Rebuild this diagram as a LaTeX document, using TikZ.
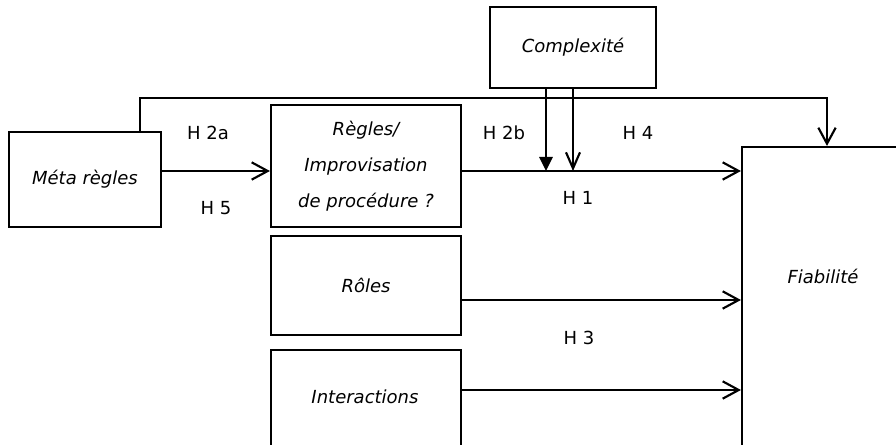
\documentclass[tikz,border=0pt]{standalone}
\usepackage{fontspec}
\setmainfont{DejaVu Sans}
\usetikzlibrary{arrows.meta}

\tikzset{
  every node/.style={font=\fontsize{13.5}{16}\selectfont},
  box/.style={draw, line width=1.6pt, inner sep=0pt, align=center, font=\fontsize{13.5}{16}\selectfont\itshape},
  arr/.style={line width=1.6pt, -{Straight Barb[length=12pt,width=13pt,line width=1.6pt]}},
  arrsm/.style={line width=1.6pt, -{Straight Barb[length=12pt,width=10.5pt,line width=1.6pt]}},
  tri/.style={line width=1.6pt, -{Triangle[length=10.5pt,width=10pt]}},
  hlab/.style={inner sep=0.75pt}
}

\begin{document}
\begin{tikzpicture}[x=0.75pt,y=0.75pt,yscale=-1,xscale=1]
\useasboundingbox (0,0) rectangle (896,445);
\clip (0,0) rectangle (896,445);

%Shape: Rectangle [Meta regles]
\node [box, minimum width=114pt, minimum height=71.25pt] (meta) at (85,179.5) {Méta règles};
%Shape: Rectangle [Regles]
\node [box, minimum width=142.5pt, minimum height=91.5pt] (regles) at (366,166) {Règles/\\[11pt]Improvisation\\[11pt]de procédure ?};
%Shape: Rectangle [Roles]
\node [box, minimum width=142.5pt, minimum height=74.25pt] (roles) at (366,285.5) {Rôles};
%Shape: Rectangle [Interactions]
\node [box, minimum width=142.5pt, minimum height=90pt] (inter) at (366,410) {};
%Shape: Rectangle [Complexite]
\node [box, minimum width=124.5pt, minimum height=60.75pt] (cplx) at (573,47.5) {Complexité};
%Shape: Rectangle [Fiabilite]
\node [box, minimum width=193.5pt, minimum height=339.75pt] (fiab) at (871,373.5) {};

%Coordinates
\coordinate (rowa) at (0,171);
\coordinate (rowb) at (0,300);
\coordinate (rowc) at (0,390);
\coordinate (topl) at (140,98);
\coordinate (topr) at (827,98);
\coordinate (cpa) at (546,0);
\coordinate (cpb) at (573,0);

%Straight Lines [H 2a / H 5]
\draw [arr] (meta.east |- rowa) -- (regles.west |- rowa);
%Straight Lines [H 1]
\draw [arr] (regles.east |- rowa) -- (fiab.west |- rowa);
%Straight Lines [H 3]
\draw [arr] (roles.east |- rowb) -- (fiab.west |- rowb);
\draw [arr] (inter.east |- rowc) -- (fiab.west |- rowc);
%Straight Lines [H 4]
\draw [arr] (meta.north -| topl) -- (topl) -- (topr) -- (fiab.north -| topr);
%Straight Lines [H 2b]
\draw [tri] (cplx.south -| cpa) -- (cpa |- rowa);
\draw [arrsm] (cplx.south -| cpb) -- (cpb |- rowa);

% Text Node
\node [font=\fontsize{13.5}{16}\selectfont\itshape] (intertxt) at (365,397) {Interactions};
% Text Node
\node [font=\fontsize{13.5}{16}\selectfont\itshape] (fiabtxt) at (823,276) {Fiabilité};
% Text Node
\node [hlab] (h2a) at (208,133) {H 2a};
% Text Node
\node [hlab] (h5) at (216,208) {H 5};
% Text Node
\node [hlab] (h2b) at (504,133) {H 2b};
% Text Node
\node [hlab] (h4) at (638,133) {H 4};
% Text Node
\node [hlab] (h1) at (578,198) {H 1};
% Text Node
\node [hlab] (h3) at (579,338) {H 3};

\end{tikzpicture}
\end{document}
